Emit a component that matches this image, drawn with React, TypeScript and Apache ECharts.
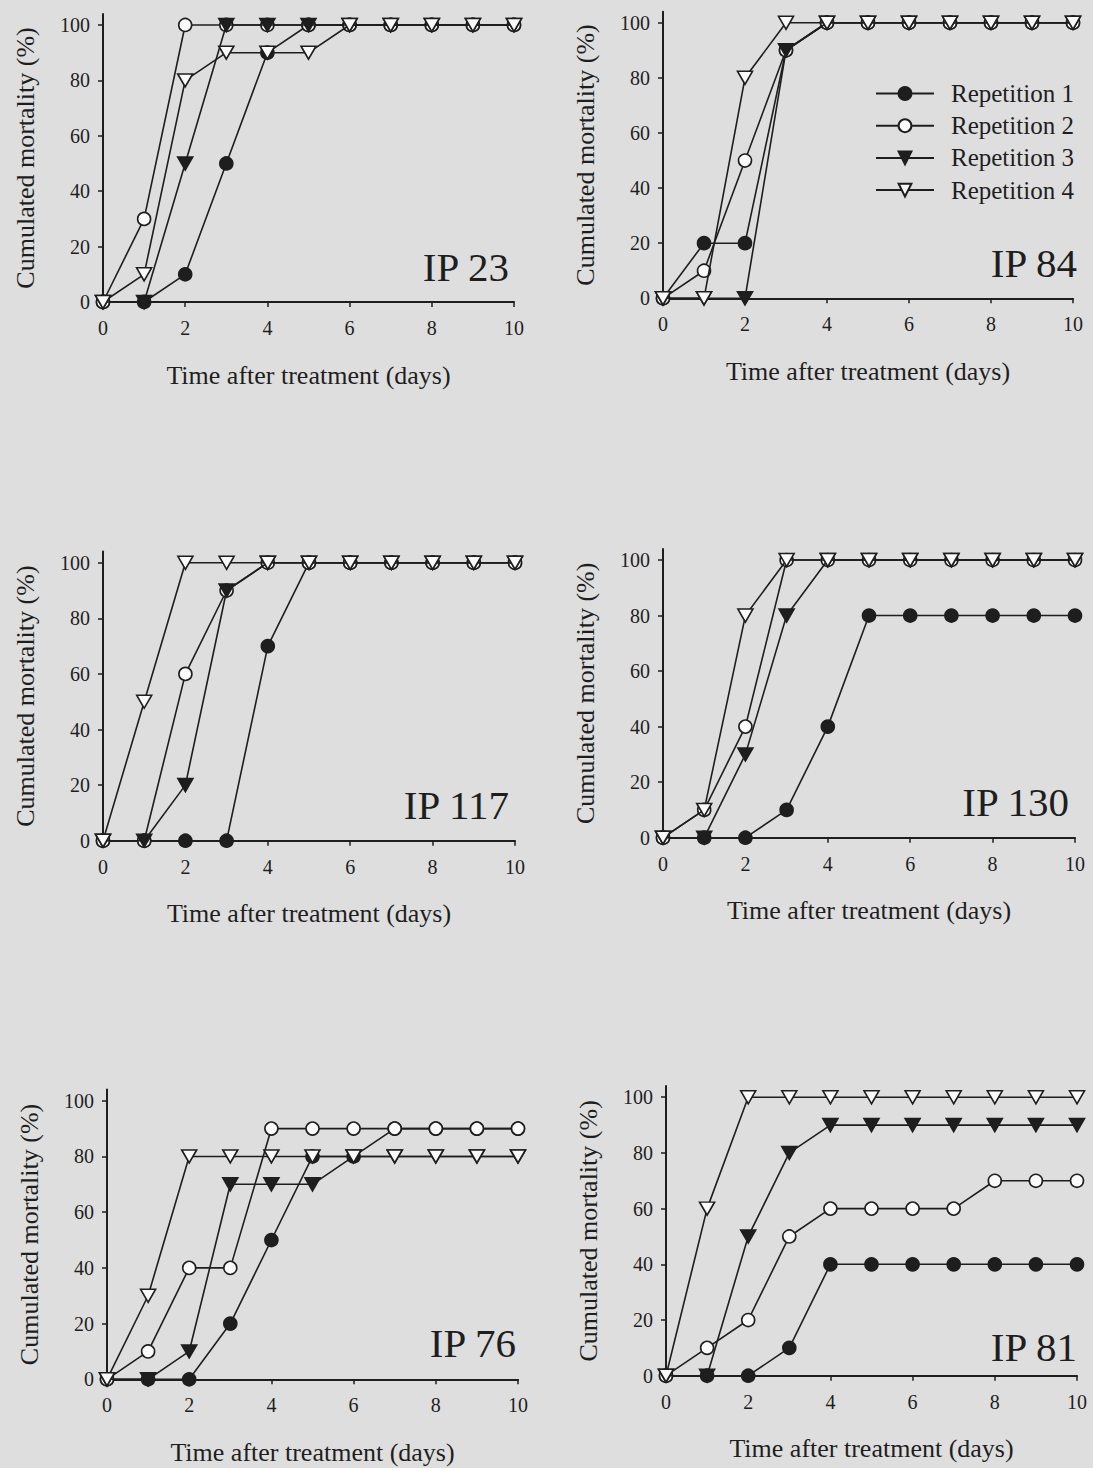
import React, { useEffect, useRef } from 'react';
import * as echarts from 'echarts';

// ---------- data ----------
const days = [0, 1, 2, 3, 4, 5, 6, 7, 8, 9, 10];
const yTicks = [0, 20, 40, 60, 80, 100];
const repNames = ['Repetition 1', 'Repetition 2', 'Repetition 3', 'Repetition 4'];
const panelNames = ['IP 23', 'IP 84', 'IP 117', 'IP 130', 'IP 76', 'IP 81'];

const ip23Rep1 = [0, 0, 10, 50, 90, 100, 100, 100, 100, 100, 100];
const ip23Rep2 = [0, 30, 100, 100, 100, 100, 100, 100, 100, 100, 100];
const ip23Rep3 = [0, 0, 50, 100, 100, 100, 100, 100, 100, 100, 100];
const ip23Rep4 = [0, 10, 80, 90, 90, 90, 100, 100, 100, 100, 100];

const ip84Rep1 = [0, 20, 20, 90, 100, 100, 100, 100, 100, 100, 100];
const ip84Rep2 = [0, 10, 50, 90, 100, 100, 100, 100, 100, 100, 100];
const ip84Rep3 = [0, 0, 0, 90, 100, 100, 100, 100, 100, 100, 100];
const ip84Rep4 = [0, 0, 80, 100, 100, 100, 100, 100, 100, 100, 100];

const ip117Rep1 = [0, 0, 0, 0, 70, 100, 100, 100, 100, 100, 100];
const ip117Rep2 = [0, 0, 60, 90, 100, 100, 100, 100, 100, 100, 100];
const ip117Rep3 = [0, 0, 20, 90, 100, 100, 100, 100, 100, 100, 100];
const ip117Rep4 = [0, 50, 100, 100, 100, 100, 100, 100, 100, 100, 100];

const ip130Rep1 = [0, 0, 0, 10, 40, 80, 80, 80, 80, 80, 80];
const ip130Rep2 = [0, 10, 40, 100, 100, 100, 100, 100, 100, 100, 100];
const ip130Rep3 = [0, 0, 30, 80, 100, 100, 100, 100, 100, 100, 100];
const ip130Rep4 = [0, 10, 80, 100, 100, 100, 100, 100, 100, 100, 100];

const ip76Rep1 = [0, 0, 0, 20, 50, 80, 80, 90, 90, 90, 90];
const ip76Rep2 = [0, 10, 40, 40, 90, 90, 90, 90, 90, 90, 90];
const ip76Rep3 = [0, 0, 10, 70, 70, 70, 80, 80, 80, 80, 80];
const ip76Rep4 = [0, 30, 80, 80, 80, 80, 80, 80, 80, 80, 80];

const ip81Rep1 = [0, 0, 0, 10, 40, 40, 40, 40, 40, 40, 40];
const ip81Rep2 = [0, 10, 20, 50, 60, 60, 60, 60, 70, 70, 70];
const ip81Rep3 = [0, 0, 50, 80, 90, 90, 90, 90, 90, 90, 90];
const ip81Rep4 = [0, 60, 100, 100, 100, 100, 100, 100, 100, 100, 100];

const panelData = [
  [ip23Rep1, ip23Rep2, ip23Rep3, ip23Rep4],
  [ip84Rep1, ip84Rep2, ip84Rep3, ip84Rep4],
  [ip117Rep1, ip117Rep2, ip117Rep3, ip117Rep4],
  [ip130Rep1, ip130Rep2, ip130Rep3, ip130Rep4],
  [ip76Rep1, ip76Rep2, ip76Rep3, ip76Rep4],
  [ip81Rep1, ip81Rep2, ip81Rep3, ip81Rep4],
];

// ---------- layout & style ----------
const BG = '#dedede';
const INK = '#1e1e1e';
const OPEN = '#fafafa';
const FONT = '"Liberation Serif", "Times New Roman", serif';

const grids = [
  { left: 103, top: 13.9, width: 411, height: 288.1 },
  { left: 663, top: 11.7, width: 410, height: 286.6 },
  { left: 103, top: 551.6, width: 412, height: 289.1 },
  { left: 663, top: 548.9, width: 412, height: 288.8 },
  { left: 107, top: 1089.6, width: 411, height: 289.7 },
  { left: 666, top: 1086.1, width: 411, height: 289.6 },
];

const labelPos = [
  { x: 509, y: 267 },
  { x: 1077, y: 263 },
  { x: 509, y: 805 },
  { x: 1069, y: 802 },
  { x: 516, y: 1343 },
  { x: 1077, y: 1347 },
];

const repStyles = [
  { symbol: 'circle', size: 13, fill: INK, rotate: 0 },
  { symbol: 'circle', size: 13, fill: OPEN, rotate: 0 },
  { symbol: 'triangle', size: [15, 13], fill: INK, rotate: 180 },
  { symbol: 'triangle', size: [15, 13], fill: OPEN, rotate: 180 },
];

function buildOption() {
  const xAxis: any[] = [];
  const yAxis: any[] = [];
  const series: any[] = [];
  const graphic: any[] = [];

  grids.forEach((_, gi) => {
    xAxis.push({
      gridIndex: gi,
      type: 'value',
      min: 0,
      max: 10,
      interval: 2,
      axisLine: { show: true, onZero: false, lineStyle: { color: INK, width: 2 } },
      axisTick: { show: true, length: 5, lineStyle: { color: INK, width: 1.5 } },
      axisLabel: { color: INK, fontSize: 20, fontFamily: FONT, margin: 16 },
      splitLine: { show: false },
      name: 'Time after treatment (days)',
      nameLocation: 'middle',
      nameGap: 60,
      nameTextStyle: { color: INK, fontSize: 26, fontFamily: FONT },
    });
    yAxis.push({
      gridIndex: gi,
      type: 'value',
      min: 0,
      max: 104,
      axisLine: { show: true, onZero: false, lineStyle: { color: INK, width: 2 } },
      axisTick: { show: true, length: 5, customValues: yTicks, lineStyle: { color: INK, width: 1.5 } },
      axisLabel: {
        color: INK,
        fontSize: 20,
        fontFamily: FONT,
        margin: 13,
        customValues: yTicks,
        formatter: (v: number) => (v % 20 === 0 ? String(v) : ''),
      },
      splitLine: { show: false },
      name: 'Cumulated mortality (%)',
      nameLocation: 'middle',
      nameGap: 65,
      nameRotate: 90,
      nameTextStyle: { color: INK, fontSize: 26, fontFamily: FONT },
    });

    panelData[gi].forEach((vals, ri) => {
      const st = repStyles[ri];
      series.push({
        type: 'line',
        name: repNames[ri],
        xAxisIndex: gi,
        yAxisIndex: gi,
        data: days.map((d, k) => [d, vals[k]]),
        symbol: st.symbol,
        symbolSize: st.size,
        symbolRotate: st.rotate,
        showAllSymbol: true,
        clip: false,
        lineStyle: { color: INK, width: 1.6 },
        itemStyle: { color: st.fill, borderColor: INK, borderWidth: 1.6 },
        emphasis: { disabled: true },
        z: 2 + ri,
      });
    });

    graphic.push({
      type: 'text',
      x: labelPos[gi].x,
      y: labelPos[gi].y,
      style: {
        text: panelNames[gi],
        fill: INK,
        fontSize: 41,
        fontFamily: FONT,
        align: 'right',
        verticalAlign: 'middle',
      },
    });
  });

  return {
    animation: false,
    backgroundColor: BG,
    grid: grids.map((g) => ({ ...g, containLabel: false })),
    xAxis,
    yAxis,
    series,
    graphic,
    legend: {
      show: true,
      orient: 'vertical',
      left: 875,
      top: 81,
      padding: 0,
      itemWidth: 58,
      itemHeight: 16,
      itemGap: 7.2,
      selectedMode: false,
      data: repNames,
      textStyle: { color: INK, fontSize: 25, fontFamily: FONT, padding: [0, 0, 0, 12] },
    },
  };
}

export default function App() {
  const ref = useRef<HTMLDivElement>(null);
  useEffect(() => {
    document.body.style.margin = '0';
    const chart = echarts.init(ref.current!, null, { renderer: 'svg' });
    chart.setOption(buildOption() as any);
    return () => chart.dispose();
  }, []);
  return <div ref={ref} style={{ width: 1093, height: 1468, background: BG }} />;
}
